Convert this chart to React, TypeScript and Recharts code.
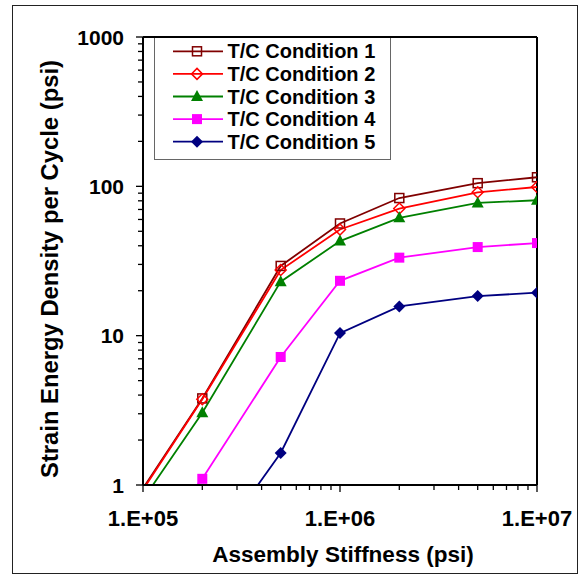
import { LineChart, Line, XAxis, YAxis, ReferenceLine, Legend } from 'recharts';

const FONT = '"Liberation Sans", Arial, Helvetica, sans-serif';

// Assembly stiffness (psi) and strain energy density per cycle (psi) for each T/C condition
const stiffness = [1e5, 2e5, 5e5, 1e6, 2e6, 5e6, 1e7];
const condition1 = [0.95, 3.8, 29.3, 56.4, 83.5, 105, 115];
const condition2 = [0.93, 3.75, 27.5, 51.4, 71, 91.2, 99];
const condition3 = [0.8, 3.05, 23, 43, 61.5, 77.4, 80.7];
const condition4 = [0.35, 1.1, 7.2, 23.3, 33.3, 39.2, 41.7];
const condition5 = [0.05, 0.3, 1.64, 10.4, 15.7, 18.4, 19.4];

const seriesNames = ['T/C Condition 1', 'T/C Condition 2', 'T/C Condition 3', 'T/C Condition 4', 'T/C Condition 5'];

const xDecades = [1e5, 1e6, 1e7];
const yDecades = [1, 10, 100, 1000];
const minorSteps = [2, 3, 4, 5, 6, 7, 8, 9];

const withMinor = (decades: number[]) => {
  const out: number[] = [];
  decades.forEach((d, i) => {
    out.push(d);
    if (i < decades.length - 1) minorSteps.forEach((m) => out.push(d * m));
  });
  return out;
};

const xTicks = withMinor(xDecades);
const yTicks = withMinor(yDecades);

const data = stiffness.map((x, i) => ({
  x,
  c1: condition1[i],
  c2: condition2[i],
  c3: condition3[i],
  c4: condition4[i],
  c5: condition5[i],
}));

type Shape = 'squareOpen' | 'diamondOpen' | 'triangle' | 'square' | 'diamond';

const seriesStyle: { key: string; color: string; shape: Shape }[] = [
  { key: 'c1', color: '#800000', shape: 'squareOpen' },
  { key: 'c2', color: '#FF0000', shape: 'diamondOpen' },
  { key: 'c3', color: '#008000', shape: 'triangle' },
  { key: 'c4', color: '#FF00FF', shape: 'square' },
  { key: 'c5', color: '#000080', shape: 'diamond' },
];

const isDecade = (v: number) => Math.abs(Math.log10(v) - Math.round(Math.log10(v))) < 1e-9;

function markerShape(shape: Shape, cx: number, cy: number, color: string, key?: string) {
  switch (shape) {
    case 'squareOpen':
      return <rect key={key} x={cx - 4.5} y={cy - 4.5} width={9} height={9} fill="none" stroke={color} strokeWidth={1.5} />;
    case 'diamondOpen':
      return (
        <polygon
          key={key}
          points={`${cx},${cy - 5.5} ${cx + 5.5},${cy} ${cx},${cy + 5.5} ${cx - 5.5},${cy}`}
          fill="none"
          stroke={color}
          strokeWidth={1.5}
        />
      );
    case 'triangle':
      return <polygon key={key} points={`${cx},${cy - 6.5} ${cx + 6},${cy + 4.5} ${cx - 6},${cy + 4.5}`} fill={color} />;
    case 'square':
      return <rect key={key} x={cx - 5} y={cy - 5} width={10} height={10} fill={color} />;
    default:
      return <polygon key={key} points={`${cx},${cy - 6} ${cx + 6},${cy} ${cx},${cy + 6} ${cx - 6},${cy}`} fill={color} />;
  }
}

const renderDot = (shape: Shape, color: string) => (props: any) => {
  const { cx, cy, index, value, payload } = props;
  const k = `${shape}-${index}`;
  // points that fall outside the plotted range are hidden
  if (cx == null || cy == null || value < 1 || payload.x <= 1e5) return <g key={k} />;
  return markerShape(shape, cx, cy, color, k);
};

function XTick({ x, y, payload }: any) {
  const v = payload.value;
  const major = isDecade(v);
  const exp = Math.round(Math.log10(v));
  return (
    <g>
      <line x1={x} x2={x} y1={y} y2={y + (major ? 7 : 5)} stroke="#000" strokeWidth={1.3} />
      {major && (
        <text x={x} y={y + 41} textAnchor="middle" fontSize={22} fontWeight="bold" fontFamily={FONT} fill="#000">
          {`1.E+${String(exp).padStart(2, '0')}`}
        </text>
      )}
    </g>
  );
}

function YTick({ x, y, payload }: any) {
  const v = payload.value;
  const major = isDecade(v);
  return (
    <g>
      <line x1={x - (major ? 7 : 5)} x2={x} y1={y} y2={y} stroke="#000" strokeWidth={1.3} />
      {major && (
        <text x={x - 19} y={y + 7.5} textAnchor="end" fontSize={21} fontWeight="bold" fontFamily={FONT} fill="#000">
          {v}
        </text>
      )}
    </g>
  );
}

function LegendBox() {
  return (
    <div
      style={{
        width: 237,
        height: 122,
        borderLeft: '1px solid #666',
        borderRight: '1px solid #666',
        borderBottom: '1px solid #666',
        background: '#fff',
        boxSizing: 'border-box',
      }}
    >
      <svg width={235} height={121} style={{ display: 'block' }}>
        {seriesStyle.map((s, i) => {
          const cy = 13.3 + i * 22.6;
          return (
            <g key={s.key}>
              <line x1={18} x2={68} y1={cy} y2={cy} stroke={s.color} strokeWidth={1.8} />
              {markerShape(s.shape, 42, cy, s.color)}
              <text x={72.5} y={cy + 7} fontSize={20} fontWeight="bold" fontFamily={FONT} fill="#000">
                {seriesNames[i]}
              </text>
            </g>
          );
        })}
      </svg>
    </div>
  );
}

export default function App() {
  return (
    <div style={{ position: 'absolute', left: 0, top: 0, width: 584, height: 575, background: '#fff' }}>
      <div
        style={{
          position: 'absolute',
          left: 12,
          top: 5,
          width: 566,
          height: 569,
          border: '1px solid #222',
          boxSizing: 'border-box',
        }}
      />
      <div style={{ position: 'absolute', left: 0, top: 0 }}>
        <LineChart width={584} height={575} data={data} margin={{ top: 37, right: 47, bottom: 0, left: 0 }}>
          <XAxis
            dataKey="x"
            type="number"
            scale="log"
            domain={[1e5, 1e7]}
            allowDataOverflow
            ticks={xTicks}
            interval={0}
            tickSize={0}
            tickMargin={0}
            tickLine={false}
            tick={<XTick />}
            height={90}
            axisLine={{ stroke: '#000', strokeWidth: 2 }}
            label={{
              content: ({ viewBox }: any) => (
                <text
                  x={viewBox.x + viewBox.width / 2 + 3}
                  y={viewBox.y + 76.5}
                  textAnchor="middle"
                  fontSize={22.5}
                  fontWeight="bold"
                  fontFamily={FONT}
                  fill="#000"
                >
                  Assembly Stiffness (psi)
                </text>
              ),
            }}
          />
          <YAxis
            type="number"
            scale="log"
            domain={[1, 1000]}
            allowDataOverflow
            ticks={yTicks}
            interval={0}
            tickSize={0}
            tickMargin={0}
            tickLine={false}
            tick={<YTick />}
            width={143}
            axisLine={{ stroke: '#000', strokeWidth: 2 }}
            label={{
              content: () => (
                <text
                  x={58}
                  y={269}
                  transform="rotate(-90, 58, 269)"
                  textAnchor="middle"
                  fontSize={23.8}
                  fontWeight="bold"
                  fontFamily={FONT}
                  fill="#000"
                >
                  Strain Energy Density per Cycle (psi)
                </text>
              ),
            }}
          />
          <ReferenceLine y={1000} stroke="#000" strokeWidth={2} />
          <ReferenceLine x={1e7} stroke="#000" strokeWidth={2} />
          {seriesStyle.map((s, i) => (
            <Line
              key={s.key}
              dataKey={s.key}
              name={seriesNames[i]}
              type="linear"
              stroke={s.color}
              strokeWidth={1.8}
              dot={renderDot(s.shape, s.color)}
              activeDot={false}
              isAnimationActive={false}
            />
          ))}
          <Legend
            layout="vertical"
            align="center"
            verticalAlign="middle"
            wrapperStyle={{ left: 154, top: 38, width: 237, height: 122 }}
            content={() => <LegendBox />}
          />
        </LineChart>
      </div>
    </div>
  );
}
